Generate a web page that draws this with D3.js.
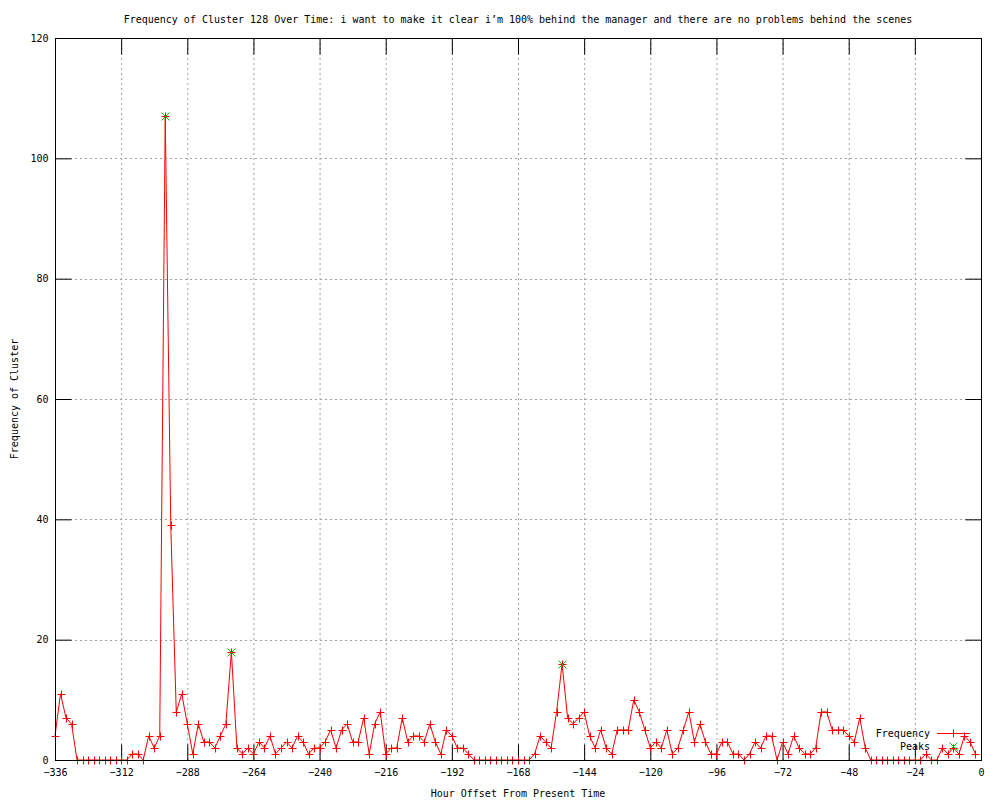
<!DOCTYPE html>
<html>
<head>
<meta charset="utf-8">
<script src="https://cdn.jsdelivr.net/npm/d3@7"></script>
<style>
body { margin: 0; background: #fff; }
text { font-family: "DejaVu Sans Mono", monospace; font-size: 10px; fill: #000; }
</style>
</head>
<body>
<div class="chart"></div>
<script>
// Frequency of cluster 128, one point every 2 hours

var hours = [
	-336,-334,-332,-330,-328,-326,-324,-322,-320,-318,
	-316,-314,-312,-310,-308,-306,-304,-302,-300,-298,
	-296,-294,-292,-290,-288,-286,-284,-282,-280,-278,
	-276,-274,-272,-270,-268,-266,-264,-262,-260,-258,
	-256,-254,-252,-250,-248,-246,-244,-242,-240,-238,
	-236,-234,-232,-230,-228,-226,-224,-222,-220,-218,
	-216,-214,-212,-210,-208,-206,-204,-202,-200,-198,
	-196,-194,-192,-190,-188,-186,-184,-182,-180,-178,
	-176,-174,-172,-170,-168,-166,-164,-162,-160,-158,
	-156,-154,-152,-150,-148,-146,-144,-142,-140,-138,
	-136,-134,-132,-130,-128,-126,-124,-122,-120,-118,
	-116,-114,-112,-110,-108,-106,-104,-102,-100,-98,
	-96,-94,-92,-90,-88,-86,-84,-82,-80,-78,
	-76,-74,-72,-70,-68,-66,-64,-62,-60,-58,
	-56,-54,-52,-50,-48,-46,-44,-42,-40,-38,
	-36,-34,-32,-30,-28,-26,-24,-22,-20,-18,
	-16,-14,-12,-10,-8,-6,-4,-2];

var counts = [
	4,11,7,6,0,0,0,0,0,0,
	0,0,0,0,1,1,0,4,2,4,
	107,39,8,11,6,1,6,3,3,2,
	4,6,18,2,1,2,1,3,2,4,
	1,2,3,2,4,3,1,2,2,3,
	5,2,5,6,3,3,7,1,6,8,
	1,2,2,7,3,4,4,3,6,3,
	1,5,4,2,2,1,0,0,0,0,
	0,0,0,0,0,0,0,1,4,3,
	2,8,16,7,6,7,8,4,2,5,
	2,1,5,5,5,10,8,5,2,3,
	2,5,1,2,5,8,3,6,3,1,
	1,3,3,1,1,0,1,3,2,4,
	4,0,3,1,4,2,1,1,2,8,
	8,5,5,5,4,3,7,2,0,0,
	0,0,0,0,0,0,0,0,1,0,
	0,2,1,2,1,4,3,1];

var peakHours = [-296, -272, -152];
var peakCounts = [107, 18, 16];

var xTicks = [-336,-312,-288,-264,-240,-216,-192,-168,-144,-120,-96,-72,-48,-24,0];
var yTicks = [0,20,40,60,80,100,120];

var titleText = "Frequency of Cluster 128 Over Time: i want to make it clear i’m 100% behind the manager and there are no problems behind the scenes";

var width = 1000,
	height = 800,
	margin = {top: 38, right: 19, bottom: 40, left: 55},
	plotW = width - margin.left - margin.right,
	plotH = height - margin.top - margin.bottom;

var svg = d3.select(".chart").append("svg")
	.attr("width", width)
	.attr("height", height);

var x = d3.scaleLinear().domain([-336, 0]).range([margin.left, margin.left + plotW]),
	y = d3.scaleLinear().domain([0, 120]).range([margin.top + plotH, margin.top]);

var data = hours.map(function(h, i) { return {hour: h, count: counts[i]}; });
var peaks = peakHours.map(function(h, i) { return {hour: h, count: peakCounts[i]}; });

// grid
svg.append("g").selectAll("line")
	.data(xTicks.slice(1, -1))
	.enter().append("line")
	.attr("x1", function(d) { return x(d) + 0.5; })
	.attr("x2", function(d) { return x(d) + 0.5; })
	.attr("y1", y(120)).attr("y2", y(0))
	.attr("stroke", "#a0a0a0").attr("stroke-dasharray", "2,3");

svg.append("g").selectAll("line")
	.data(yTicks.slice(1, -1))
	.enter().append("line")
	.attr("x1", x(-336)).attr("x2", x(0))
	.attr("y1", function(d) { return Math.round(y(d)) + 0.5; })
	.attr("y2", function(d) { return Math.round(y(d)) + 0.5; })
	.attr("stroke", "#a0a0a0").attr("stroke-dasharray", "2,3");

// axes with inward ticks, mirrored like gnuplot
var tickLen = 16;
svg.append("g")
	.attr("transform", "translate(0," + (y(0) + 0.5) + ")")
	.call(d3.axisBottom(x).tickValues(xTicks).tickSizeInner(-tickLen).tickSizeOuter(0).tickPadding(8))
	.call(function(g) { g.select(".domain").remove(); });

svg.append("g")
	.attr("transform", "translate(0," + (y(120) + 0.5) + ")")
	.call(d3.axisTop(x).tickValues(xTicks).tickSizeInner(-tickLen).tickSizeOuter(0).tickFormat(""))
	.call(function(g) { g.select(".domain").remove(); });

svg.append("g")
	.attr("transform", "translate(" + (x(-336) + 0.5) + ",0)")
	.call(d3.axisLeft(y).tickValues(yTicks).tickSizeInner(-tickLen).tickSizeOuter(0).tickPadding(7))
	.call(function(g) { g.select(".domain").remove(); });

svg.append("g")
	.attr("transform", "translate(" + (x(0) + 0.5) + ",0)")
	.call(d3.axisRight(y).tickValues(yTicks).tickSizeInner(-tickLen).tickSizeOuter(0).tickFormat(""))
	.call(function(g) { g.select(".domain").remove(); });

svg.selectAll(".tick text").style("font-size", "10px").style("font-family", "DejaVu Sans Mono, monospace");

// frequency line
var line = d3.line()
	.x(function(d) { return x(d.hour); })
	.y(function(d) { return y(d.count); });

svg.append("path")
	.datum(data)
	.attr("fill", "none")
	.attr("stroke", "#ff0000")
	.attr("stroke-width", 1)
	.attr("d", line);

var ps = 4;
function plus(sel, color) {
	sel.append("path")
		.attr("fill", "none")
		.attr("stroke", color)
		.attr("stroke-width", 1)
		.attr("d", function(d) {
			var px = Math.round(x(d.hour)) + 0.5, py = Math.round(y(d.count)) + 0.5;
			return "M" + (px - ps) + "," + py + "H" + (px + ps) + "M" + px + "," + (py - ps) + "V" + (py + ps);
		});
}
function cross(sel, color) {
	sel.append("path")
		.attr("fill", "none")
		.attr("stroke", color)
		.attr("stroke-width", 1)
		.attr("d", function(d) {
			var px = Math.round(x(d.hour)) + 0.5, py = Math.round(y(d.count)) + 0.5;
			return "M" + (px - ps) + "," + (py - ps) + "L" + (px + ps) + "," + (py + ps) +
				"M" + (px - ps) + "," + (py + ps) + "L" + (px + ps) + "," + (py - ps);
		});
}

svg.append("g").selectAll("g")
	.data(data)
	.enter().append("g")
	.call(plus, "#ff0000");

svg.append("g").selectAll("g")
	.data(peaks)
	.enter().append("g")
	.call(cross, "#00c000");

// border on top
svg.append("rect")
	.attr("x", x(-336) + 0.5)
	.attr("y", y(120) + 0.5)
	.attr("width", x(0) - x(-336))
	.attr("height", y(0) - y(120))
	.attr("fill", "none")
	.attr("stroke", "#000");

// legend
var lx = 930, ly = 733;
svg.append("text").attr("x", lx).attr("y", ly).attr("dy", "0.35em").attr("text-anchor", "end").text("Frequency");
svg.append("text").attr("x", lx).attr("y", ly + 13).attr("dy", "0.35em").attr("text-anchor", "end").text("Peaks");
svg.append("line")
	.attr("x1", 937).attr("x2", 970)
	.attr("y1", ly + 0.5).attr("y2", ly + 0.5)
	.attr("stroke", "#ff0000");
svg.append("path")
	.attr("fill", "none").attr("stroke", "#ff0000")
	.attr("d", "M" + (953.5 - ps) + "," + (ly + 0.5) + "H" + (953.5 + ps) + "M953.5," + (ly + 0.5 - ps) + "V" + (ly + 0.5 + ps));
svg.append("path")
	.attr("fill", "none").attr("stroke", "#00c000")
	.attr("d", "M" + (953.5 - ps) + "," + (ly + 13.5 - ps) + "L" + (953.5 + ps) + "," + (ly + 13.5 + ps) +
		"M" + (953.5 - ps) + "," + (ly + 13.5 + ps) + "L" + (953.5 + ps) + "," + (ly + 13.5 - ps));

// titles
svg.append("text")
	.attr("x", (x(-336) + x(0)) / 2)
	.attr("y", 19)
	.attr("dy", "0.35em")
	.style("text-anchor", "middle")
	.text(titleText);

svg.append("text")
	.attr("x", (x(-336) + x(0)) / 2)
	.attr("y", 793)
	.attr("dy", "0.35em")
	.style("text-anchor", "middle")
	.text("Hour Offset From Present Time");

svg.append("text")
	.attr("transform", "translate(14," + ((y(0) + y(120)) / 2) + ") rotate(-90)")
	.attr("dy", "0.35em")
	.style("text-anchor", "middle")
	.text("Frequency of Cluster");
</script>
</body>
</html>
